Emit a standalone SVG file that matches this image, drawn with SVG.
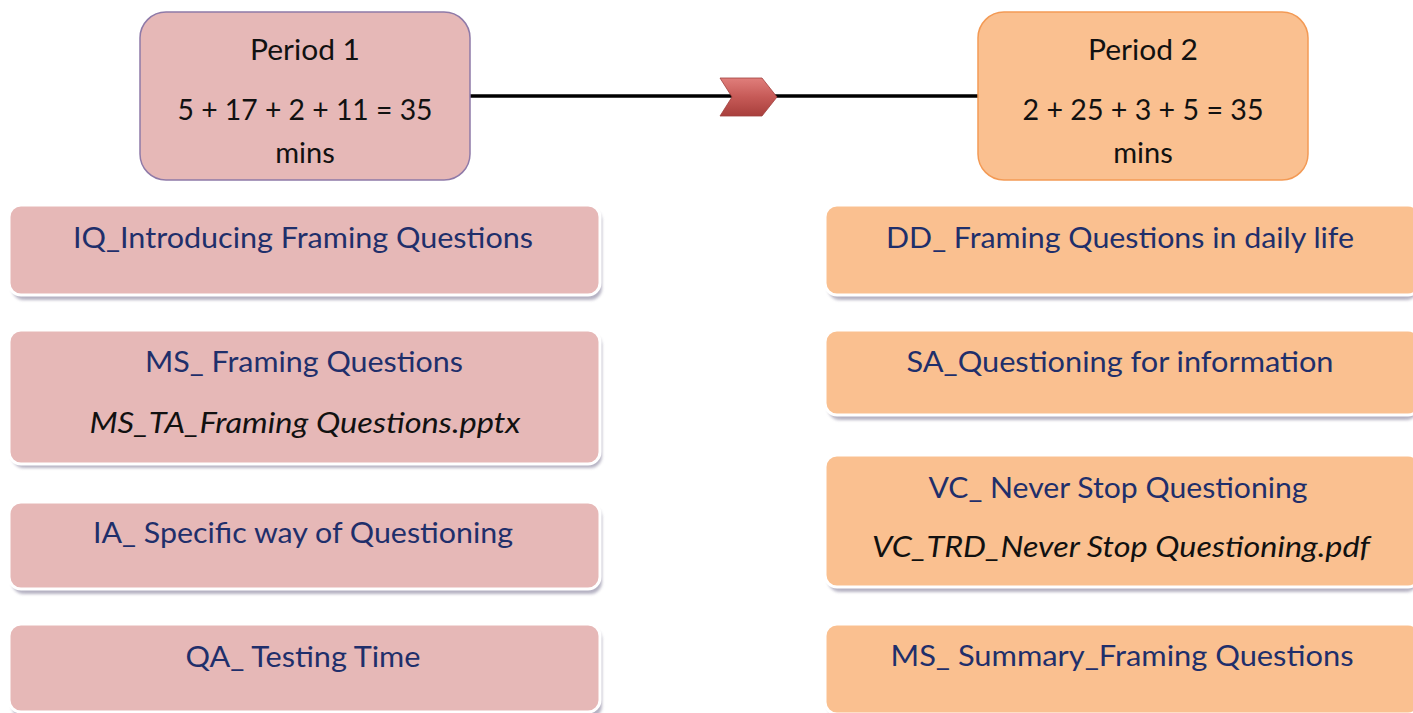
<svg xmlns="http://www.w3.org/2000/svg" width="1413" height="713" viewBox="0 0 1413 713">
<defs>
<style>
.t{font-family:Lato,"Liberation Sans",sans-serif;font-size:29px;text-anchor:middle}
.k{fill:#111}
.b{fill:#1f2f6b}
.i{font-style:italic;fill:#111}
.p1{fill:#e6b8b7;stroke:#ffffff;stroke-width:3}
.p2{fill:#fac090;stroke:#ffffff;stroke-width:3}
.sh{fill:#9c98ae;opacity:0.75}
</style>
<linearGradient id="chev" x1="0" y1="0" x2="0" y2="1">
<stop offset="0" stop-color="#e07e7b"/>
<stop offset="0.5" stop-color="#c65a57"/>
<stop offset="1" stop-color="#a83f3c"/>
</linearGradient>
<filter id="blur" x="-5%" y="-20%" width="110%" height="140%"><feGaussianBlur stdDeviation="1.5"/></filter>
</defs>
<rect width="1413" height="713" fill="#ffffff"/>
<g id="connectors">
<line x1="470" y1="96" x2="978" y2="96" stroke="#000" stroke-width="3.5"/>
<polygon points="720,78 762,78 777,97 762,116 720,116 732,97" fill="url(#chev)" stroke="#a0403d" stroke-width="0.8"/>
</g>
<g id="period1">
<rect x="140" y="12" width="330" height="168" rx="26" fill="#e6b8b7" stroke="#8f7aa8" stroke-width="1.5"/>
<text class="t k" x="305" y="60" textLength="110" lengthAdjust="spacingAndGlyphs">Period 1</text>
<text class="t k" x="305" y="120" textLength="255" lengthAdjust="spacingAndGlyphs">5 + 17 + 2 + 11 = 35</text>
<text class="t k" x="305" y="163">mins</text>
</g>
<g id="period2">
<rect x="978" y="12" width="330" height="168" rx="26" fill="#fac090" stroke="#f39a55" stroke-width="1.5"/>
<text class="t k" x="1143" y="60" textLength="110" lengthAdjust="spacingAndGlyphs">Period 2</text>
<text class="t k" x="1143" y="120" textLength="241" lengthAdjust="spacingAndGlyphs">2 + 25 + 3 + 5 = 35</text>
<text class="t k" x="1143" y="163">mins</text>
</g>
<g id="iq">
<rect class="sh" x="12" y="209" width="590" height="91" rx="12" filter="url(#blur)"/>
<rect class="p1" x="9" y="205" width="591" height="90" rx="12"/>
<text class="t b" x="303" y="248" textLength="460" lengthAdjust="spacingAndGlyphs">IQ_Introducing Framing Questions</text>
</g>
<g id="ms1">
<rect class="sh" x="12" y="334" width="590" height="134" rx="12" filter="url(#blur)"/>
<rect class="p1" x="9" y="330" width="591" height="134" rx="12"/>
<text class="t b" x="304" y="372" textLength="318" lengthAdjust="spacingAndGlyphs">MS_ Framing Questions</text>
<text class="t i" x="305" y="433" textLength="431" lengthAdjust="spacingAndGlyphs">MS_TA_Framing Questions.pptx</text>
</g>
<g id="ia">
<rect class="sh" x="12" y="506" width="590" height="88" rx="12" filter="url(#blur)"/>
<rect class="p1" x="9" y="502" width="591" height="87" rx="12"/>
<text class="t b" x="303" y="543" textLength="420" lengthAdjust="spacingAndGlyphs">IA_ Specific way of Questioning</text>
</g>
<g id="qa">
<rect class="sh" x="12" y="628" width="590" height="90" rx="12" filter="url(#blur)"/>
<rect class="p1" x="9" y="624" width="591" height="88" rx="12"/>
<text class="t b" x="303" y="667" textLength="235" lengthAdjust="spacingAndGlyphs">QA_ Testing Time</text>
</g>
<g id="dd">
<rect class="sh" x="828" y="209" width="590" height="91" rx="12" filter="url(#blur)"/>
<rect class="p2" x="825" y="205" width="595" height="90" rx="12"/>
<text class="t b" x="1120" y="248" textLength="468" lengthAdjust="spacingAndGlyphs">DD_ Framing Questions in daily life</text>
</g>
<g id="sa">
<rect class="sh" x="828" y="334" width="590" height="86" rx="12" filter="url(#blur)"/>
<rect class="p2" x="825" y="330" width="595" height="85" rx="12"/>
<text class="t b" x="1120" y="372" textLength="427" lengthAdjust="spacingAndGlyphs">SA_Questioning for information</text>
</g>
<g id="vc">
<rect class="sh" x="828" y="459" width="590" height="133" rx="12" filter="url(#blur)"/>
<rect class="p2" x="825" y="455" width="595" height="132" rx="12"/>
<text class="t b" x="1118" y="498" textLength="379" lengthAdjust="spacingAndGlyphs">VC_ Never Stop Questioning</text>
<text class="t i" x="1121" y="557" textLength="498" lengthAdjust="spacingAndGlyphs">VC_TRD_Never Stop Questioning.pdf</text>
</g>
<g id="ms2">
<rect class="sh" x="828" y="628" width="590" height="90" rx="12" filter="url(#blur)"/>
<rect class="p2" x="825" y="624" width="595" height="90" rx="12"/>
<text class="t b" x="1122" y="666" textLength="463" lengthAdjust="spacingAndGlyphs">MS_ Summary_Framing Questions</text>
</g>
</svg>
